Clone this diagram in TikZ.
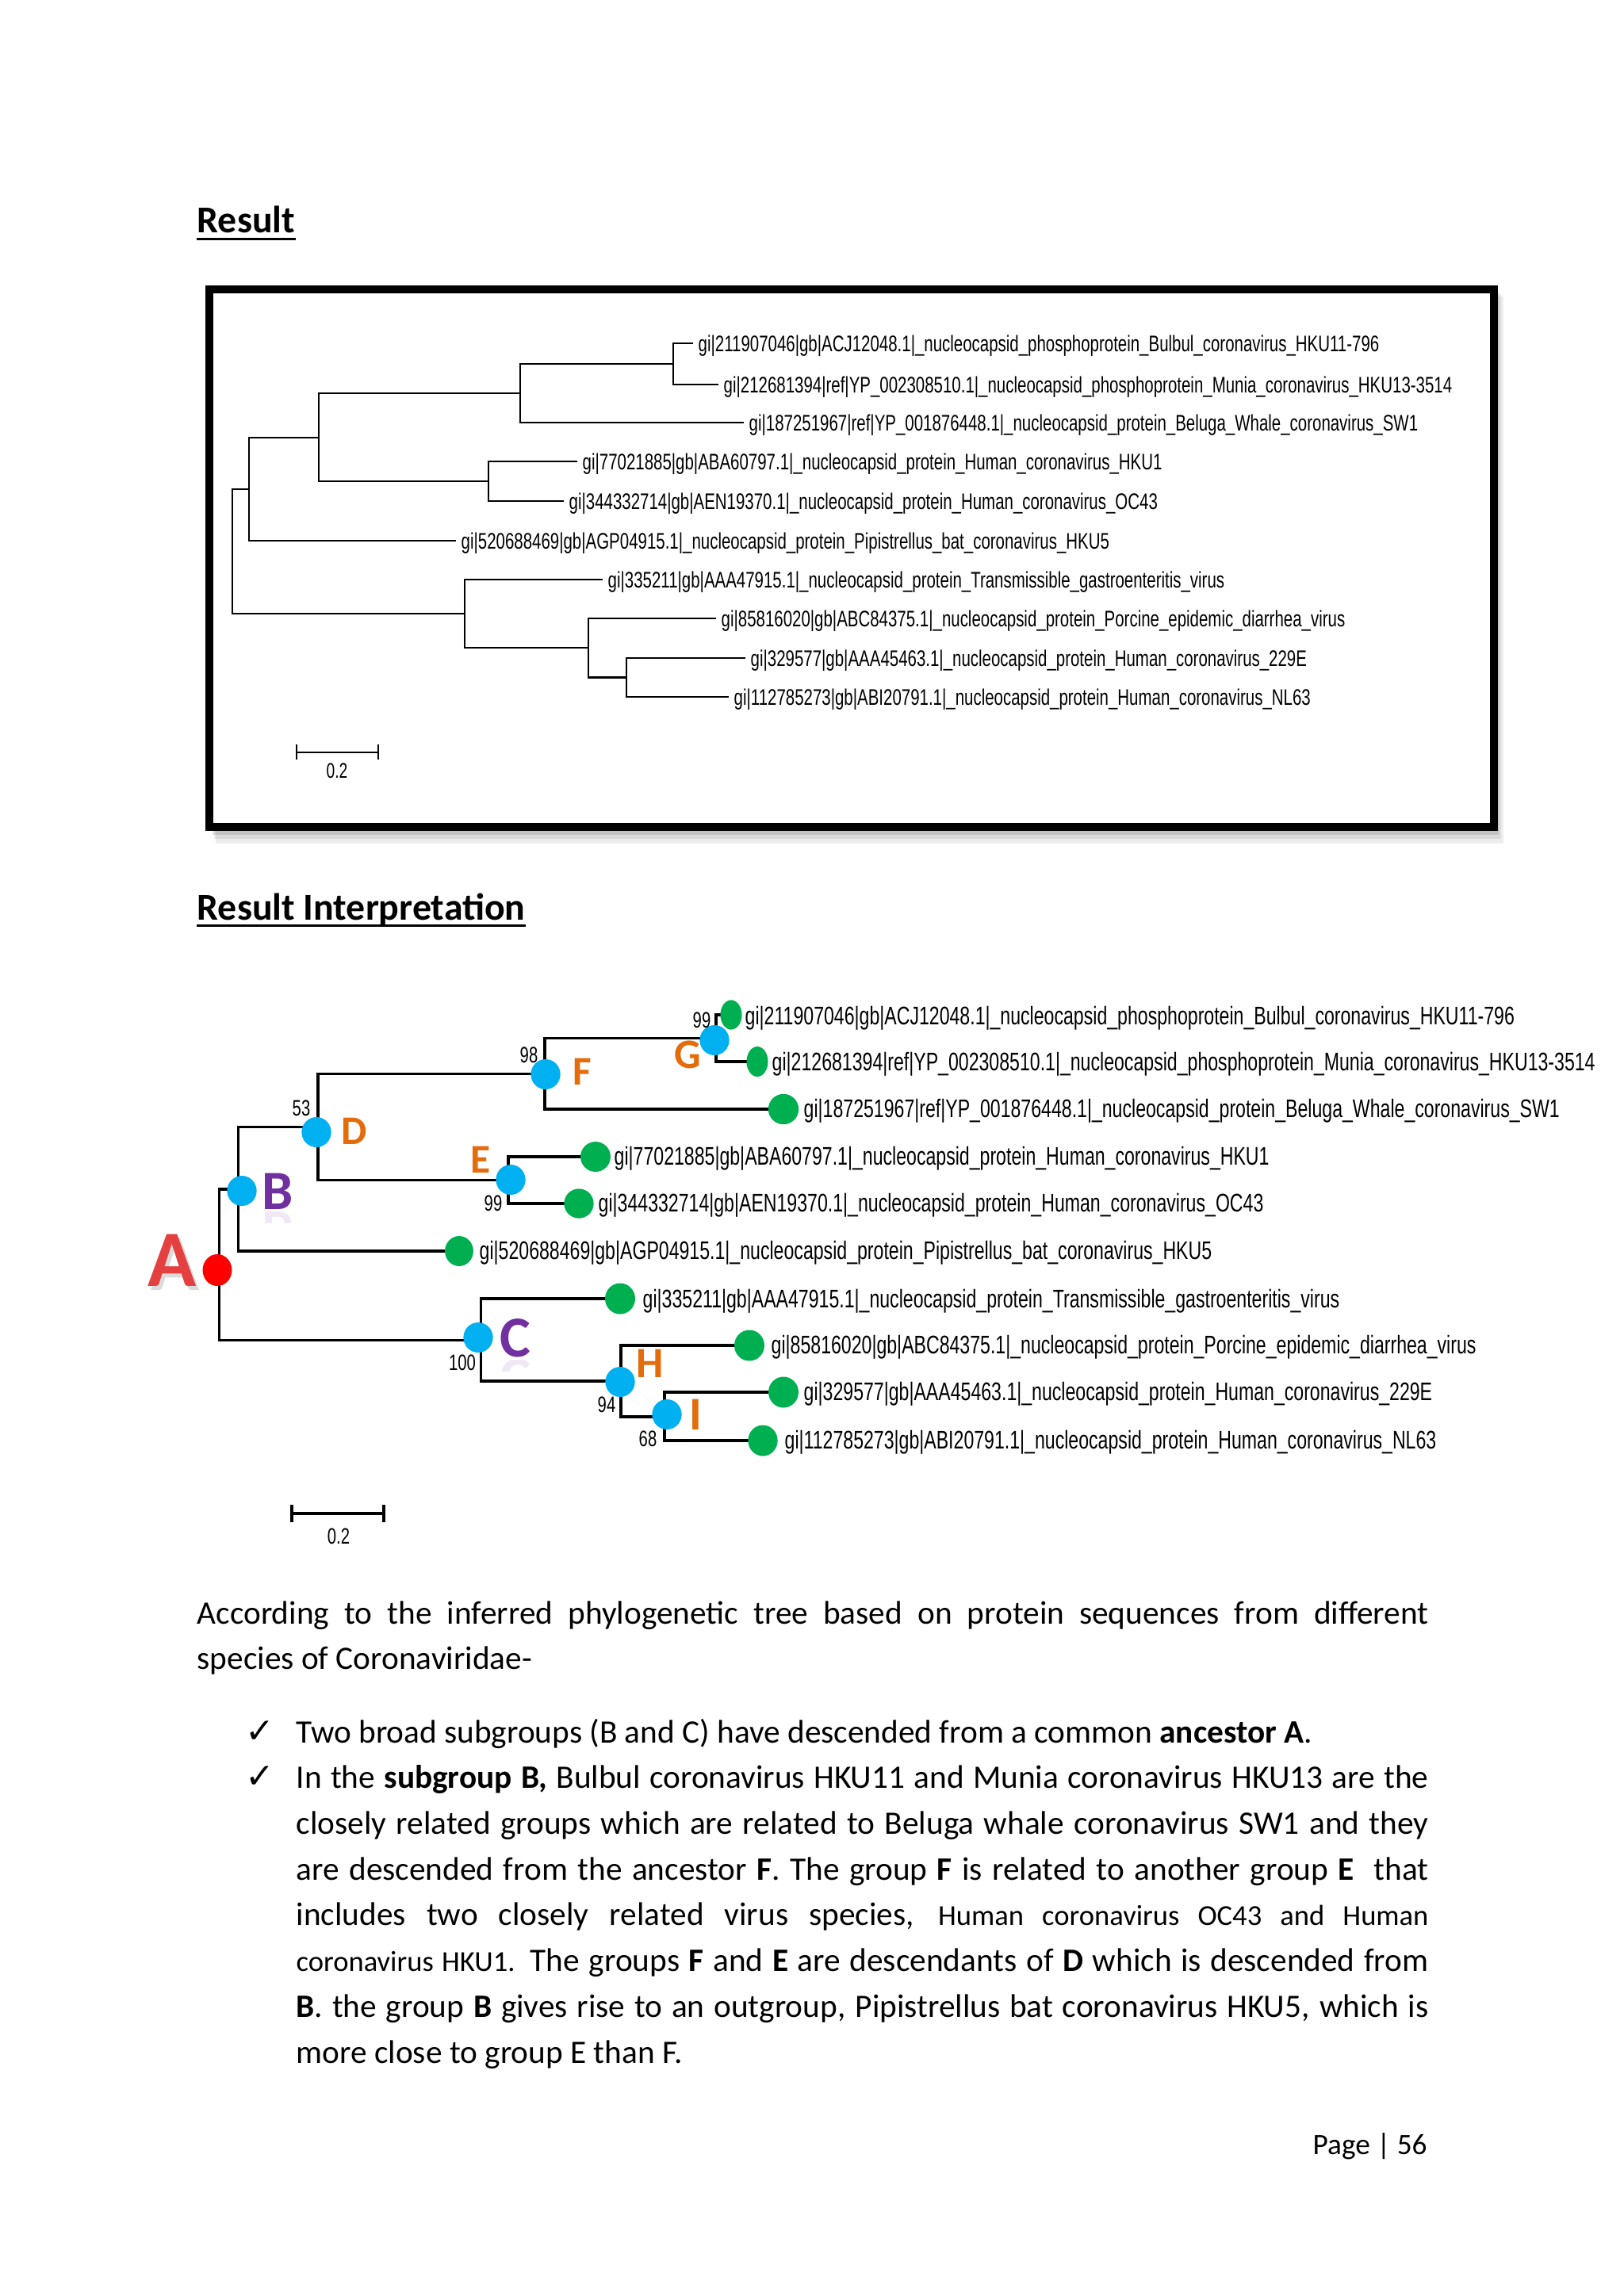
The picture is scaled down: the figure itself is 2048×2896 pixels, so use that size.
\documentclass[tikz,border=0pt]{standalone}
\usepackage{fontspec}
\setmainfont{Carlito}
\newfontfamily\treefont[FakeStretch=0.72]{Liberation Sans}
\newfontfamily\symfont{DejaVu Sans}
\usetikzlibrary{shapes.geometric}
\definecolor{nblue}{HTML}{00B0F0}
\definecolor{ngreen}{HTML}{00B050}
\definecolor{nred}{HTML}{FF0000}
\definecolor{npurple}{HTML}{7030A0}
\definecolor{norange}{HTML}{E46C0A}
\definecolor{ared}{HTML}{E4403F}
\tikzset{
  tbr/.style={line width=0.8pt},
  bbr/.style={line width=0.9pt},
  tlab/.style={anchor=west, inner xsep=1.7pt, inner ysep=0pt, font=\treefont\fontsize{8.08}{9}\selectfont, text height=5.79pt, text depth=0pt},
  blab/.style={anchor=west, inner sep=0pt, font=\treefont\fontsize{9.13}{10}\selectfont, text height=6.54pt, text depth=0pt},
  bootval/.style={inner sep=0pt, font=\treefont\fontsize{8}{9}\selectfont, text height=5.73pt, text depth=0pt},
  inner/.style={ellipse, fill=nblue, inner sep=0pt, minimum width=10.6pt, minimum height=10.8pt},
  letter/.style={inner sep=0pt, text depth=0pt},
  bodyt/.style={anchor=base west, inner sep=0pt, font=\fontsize{11.75}{14}\selectfont},
  chk/.style={anchor=base west, inner sep=0pt, font=\symfont\fontsize{12.5}{14}\selectfont},
}
\newcommand{\smtxt}[1]{{\fontsize{10.4}{12}\selectfont #1}}
\begin{document}
\begin{tikzpicture}[x=0.01cm,y=-0.01cm]
\useasboundingbox (0,0) rectangle (2048,2896);
\fill[white] (0,0) rectangle (2048,2896);

% ---------- Heading 1
\node[anchor=base west, inner sep=0pt, font=\bfseries\fontsize{13.6}{16}\selectfont] (h1) at (248,293) {Result};
\draw[line width=0.85pt] ([yshift=-2.3pt]h1.base west) -- ([yshift=-2.3pt]h1.base east);

% ---------- Framed tree
\fill[black,opacity=0.07] (272,374) rectangle (1896,1064);
\fill[black,opacity=0.08] (270,371) rectangle (1893,1058);
\fill[black,opacity=0.10] (268,368) rectangle (1890,1053);
\filldraw[fill=white, draw=black, line width=2.85pt] (264,365) rectangle (1884,1043);

\coordinate (tA) at (293,696);
\coordinate (tB) at (314,617);
\coordinate (tC) at (586,774);
\coordinate (tD) at (402,552);
\coordinate (tE) at (616,607);
\coordinate (tF) at (656,496);
\coordinate (tG) at (849,459);
\coordinate (tH) at (742,817);
\coordinate (tI) at (790,854.5);

\node[tlab] (t1) at (874,433) {gi|211907046|gb|ACJ12048.1|\_nucleocapsid\_phosphoprotein\_Bulbul\_coronavirus\_HKU11-796};
\node[tlab] (t2) at (906,485) {gi|212681394|ref|YP\_002308510.1|\_nucleocapsid\_phosphoprotein\_Munia\_coronavirus\_HKU13-3514};
\node[tlab] (t3) at (938,533) {gi|187251967|ref|YP\_001876448.1|\_nucleocapsid\_protein\_Beluga\_Whale\_coronavirus\_SW1};
\node[tlab] (t4) at (728,582) {gi|77021885|gb|ABA60797.1|\_nucleocapsid\_protein\_Human\_coronavirus\_HKU1};
\node[tlab] (t5) at (711,632) {gi|344332714|gb|AEN19370.1|\_nucleocapsid\_protein\_Human\_coronavirus\_OC43};
\node[tlab] (t6) at (575,682) {gi|520688469|gb|AGP04915.1|\_nucleocapsid\_protein\_Pipistrellus\_bat\_coronavirus\_HKU5};
\node[tlab] (t7) at (760,731) {gi|335211|gb|AAA47915.1|\_nucleocapsid\_protein\_Transmissible\_gastroenteritis\_virus};
\node[tlab] (t8) at (903,780) {gi|85816020|gb|ABC84375.1|\_nucleocapsid\_protein\_Porcine\_epidemic\_diarrhea\_virus};
\node[tlab] (t9) at (940,830) {gi|329577|gb|AAA45463.1|\_nucleocapsid\_protein\_Human\_coronavirus\_229E};
\node[tlab] (t10) at (919,879) {gi|112785273|gb|ABI20791.1|\_nucleocapsid\_protein\_Human\_coronavirus\_NL63};

\draw[tbr] (tA) |- (tB);
\draw[tbr] (tA) |- (tC);
\draw[tbr] (tB) |- (tD);
\draw[tbr] (tB) |- (t6.west);
\draw[tbr] (tD) |- (tF);
\draw[tbr] (tD) |- (tE);
\draw[tbr] (tF) |- (tG);
\draw[tbr] (tF) |- (t3.west);
\draw[tbr] (tG) |- (t1.west);
\draw[tbr] (tG) |- (t2.west);
\draw[tbr] (tE) |- (t4.west);
\draw[tbr] (tE) |- (t5.west);
\draw[tbr] (tC) |- (t7.west);
\draw[tbr] (tC) |- (tH);
\draw[tbr] (tH) |- (t8.west);
\draw[tbr] (tH) |- (tI);
\draw[tbr] (tI) |- (t9.west);
\draw[tbr] (tI) |- (t10.west);

% scale bar top
\coordinate (sa) at (374,949);
\coordinate (sb) at (477,949);
\draw[tbr] (sa) -- (sb);
\draw[tbr] ([yshift=2.8pt]sa) -- ([yshift=-2.6pt]sa);
\draw[tbr] ([yshift=2.8pt]sb) -- ([yshift=-2.6pt]sb);
\node[bootval, font=\treefont\fontsize{7.6}{9}\selectfont, text height=5.44pt] (s02) at (425,972) {0.2};

% ---------- Heading 2
\node[anchor=base west, inner sep=0pt, font=\bfseries\fontsize{13.6}{16}\selectfont] (h2) at (248,1160) {Result Interpretation};
\draw[line width=0.85pt] ([yshift=-2.1pt]h2.base west) -- ([yshift=-2.1pt]h2.base east);

% ---------- Annotated tree
\coordinate (bA) at (276.5,1596);
\coordinate (bB) at (300.5,1500);
\coordinate (bC) at (606.5,1690.5);
\coordinate (bD) at (401,1421.5);
\coordinate (bE) at (641,1488.5);
\coordinate (bF) at (687,1354.5);
\coordinate (bG) at (903,1309.5);
\coordinate (bH) at (783,1742);
\coordinate (bI) at (838,1787);

\coordinate (g1) at (922,1280);
\coordinate (g2) at (955,1339);
\coordinate (g3) at (988,1399);
\coordinate (g4) at (751,1459);
\coordinate (g5) at (730,1518);
\coordinate (g6) at (579,1578);
\coordinate (g7) at (782,1638);
\coordinate (g8) at (945,1697);
\coordinate (g9) at (988,1756);
\coordinate (g10) at (962,1817);

\draw[bbr] (bA) |- (bB);
\draw[bbr] (bA) |- (bC);
\draw[bbr] (bB) |- (bD);
\draw[bbr] (bB) |- (g6);
\draw[bbr] (bD) |- (bF);
\draw[bbr] (bD) |- (bE);
\draw[bbr] (bF) |- (bG);
\draw[bbr] (bF) |- (g3);
\draw[bbr] (bG) |- (g1);
\draw[bbr] (bG) |- (g2);
\draw[bbr] (bE) |- (g4);
\draw[bbr] (bE) |- (g5);
\draw[bbr] (bC) |- (g7);
\draw[bbr] (bC) |- (bH);
\draw[bbr] (bH) |- (g8);
\draw[bbr] (bH) |- (bI);
\draw[bbr] (bI) |- (g9);
\draw[bbr] (bI) |- (g10);

% leaf dots
\fill[ngreen] (g1) ellipse [x radius=3.85pt, y radius=5.3pt];
\fill[ngreen] (g2) ellipse [x radius=3.85pt, y radius=5.4pt];
\fill[ngreen] (g3) circle [radius=5.45pt];
\fill[ngreen] (g4) circle [radius=5.4pt];
\fill[ngreen] (g5) circle [radius=5.3pt];
\fill[ngreen] (g6) ellipse [x radius=5.1pt, y radius=5.4pt];
\fill[ngreen] (g7) ellipse [x radius=5.4pt, y radius=5.55pt];
\fill[ngreen] (g8) ellipse [x radius=5.4pt, y radius=5.55pt];
\fill[ngreen] (g9) ellipse [x radius=5.4pt, y radius=5.55pt];
\fill[ngreen] (g10) ellipse [x radius=5.3pt, y radius=5.55pt];

\node[inner] (nB) at (305,1502) {};
\node[inner] (nD) at (399,1428) {};
\node[inner] (nE) at (644,1488) {};
\node[inner] (nF) at (688,1355) {};
\node[inner] (nG) at (901,1312) {};
\node[inner] (nC) at (603,1687) {};
\node[inner] (nH) at (782,1743) {};
\node[inner] (nI) at (841,1784) {};
\node[ellipse, fill=nred, inner sep=0pt, minimum width=10.5pt, minimum height=11.4pt] (nA) at (274,1602) {};

\node[blab] (l1) at (939,1281) {gi|211907046|gb|ACJ12048.1|\_nucleocapsid\_phosphoprotein\_Bulbul\_coronavirus\_HKU11-796};
\node[blab] (l2) at (973,1339) {gi|212681394|ref|YP\_002308510.1|\_nucleocapsid\_phosphoprotein\_Munia\_coronavirus\_HKU13-3514};
\node[blab] (l3) at (1013,1398) {gi|187251967|ref|YP\_001876448.1|\_nucleocapsid\_protein\_Beluga\_Whale\_coronavirus\_SW1};
\node[blab] (l4) at (774,1458) {gi|77021885|gb|ABA60797.1|\_nucleocapsid\_protein\_Human\_coronavirus\_HKU1};
\node[blab] (l5) at (754,1517) {gi|344332714|gb|AEN19370.1|\_nucleocapsid\_protein\_Human\_coronavirus\_OC43};
\node[blab] (l6) at (604,1577) {gi|520688469|gb|AGP04915.1|\_nucleocapsid\_protein\_Pipistrellus\_bat\_coronavirus\_HKU5};
\node[blab] (l7) at (810,1638) {gi|335211|gb|AAA47915.1|\_nucleocapsid\_protein\_Transmissible\_gastroenteritis\_virus};
\node[blab] (l8) at (972,1696) {gi|85816020|gb|ABC84375.1|\_nucleocapsid\_protein\_Porcine\_epidemic\_diarrhea\_virus};
\node[blab] (l9) at (1013,1755) {gi|329577|gb|AAA45463.1|\_nucleocapsid\_protein\_Human\_coronavirus\_229E};
\node[blab] (l10) at (989,1816) {gi|112785273|gb|ABI20791.1|\_nucleocapsid\_protein\_Human\_coronavirus\_NL63};

% bootstrap values
\node[bootval] (v1) at (885,1286) {99};
\node[bootval] (v2) at (667,1330) {98};
\node[bootval] (v3) at (380,1397) {53};
\node[bootval] (v4) at (622,1517) {99};
\node[bootval] (v5) at (583,1718) {100};
\node[bootval] (v6) at (765,1771) {94};
\node[bootval] (v7) at (817,1814) {68};

% group letters
\node[letter, text=black!40, opacity=0.35, font=\bfseries\fontsize{28.7}{30}\selectfont, text height=18.5pt] (LAs) at (221,1595) {A};
\node[letter, text=ared, font=\bfseries\fontsize{28.7}{30}\selectfont, text height=18.5pt] (LA) at (217,1590) {A};
\begin{scope}
\clip (325,1528) rectangle (380,1542);
\node[letter, text=npurple, opacity=0.1, yscale=-1, font=\bfseries\fontsize{19.9}{22}\selectfont, text height=12.8pt] (LBr) at (350,1551) {B};
\end{scope}
\node[letter, text=npurple, font=\bfseries\fontsize{19.9}{22}\selectfont, text height=12.8pt] (LB) at (350,1503) {B};
\begin{scope}
\clip (625,1715) rectangle (680,1729);
\node[letter, text=npurple, opacity=0.1, yscale=-1, font=\bfseries\fontsize{20.8}{22}\selectfont, text height=13.4pt] (LCr) at (650,1738) {C};
\end{scope}
\node[letter, text=npurple, font=\bfseries\fontsize{20.8}{22}\selectfont, text height=13.4pt] (LC) at (650,1688) {C};
\node[letter, text=norange, font=\bfseries\fontsize{14.6}{16}\selectfont, text height=9.4pt] (LD) at (447,1427) {D};
\node[letter, text=norange, font=\bfseries\fontsize{14.6}{16}\selectfont, text height=9.4pt] (LE) at (606,1463) {E};
\node[letter, text=norange, font=\bfseries\fontsize{14.6}{16}\selectfont, text height=9.4pt] (LF) at (734,1352) {F};
\node[letter, text=norange, font=\bfseries\fontsize{15}{16}\selectfont, text height=9.7pt] (LG) at (867,1330) {G};
\node[letter, text=norange, font=\bfseries\fontsize{15.5}{16}\selectfont, text height=10pt] (LH) at (820,1720) {H};
\node[letter, text=norange, font=\bfseries\fontsize{16.8}{18}\selectfont, text height=10.8pt] (LI) at (877,1784) {I};

% scale bar bottom
\coordinate (sc) at (368,1909);
\coordinate (sd) at (484,1909);
\draw[bbr] (sc) -- (sd);
\draw[bbr] ([yshift=3.1pt]sc) -- ([yshift=-3.1pt]sc);
\draw[bbr] ([yshift=3.1pt]sd) -- ([yshift=-3.1pt]sd);
\node[bootval] (s02b) at (427,1937) {0.2};

% ---------- Body text
\node[bodyt] (p1) at (248,2048) {\makebox[155.2mm][s]{According to the inferred phylogenetic tree based on protein sequences from different}};
\node[bodyt] (p2) at (248,2105) {species of Coronaviridae-};
\node[chk] (c1) at (309,2198) {✓};
\node[bodyt] (b1) at (373,2198) {Two broad subgroups (B and C) have descended from a common \textbf{ancestor A}.};
\node[chk] (c2) at (309,2255) {✓};
\node[bodyt] (b2) at (373,2255) {\makebox[142.7mm][s]{In the \textbf{subgroup B,} Bulbul coronavirus HKU11 and Munia coronavirus HKU13 are the}};
\node[bodyt] (b3) at (373,2313) {\makebox[142.7mm][s]{closely related groups which are related to Beluga whale coronavirus SW1 and they}};
\node[bodyt] (b4) at (373,2371) {\makebox[142.7mm][s]{are descended from the ancestor \textbf{F}. The group \textbf{F} is related to another group \textbf{E}\ \ that}};
\node[bodyt] (b5) at (373,2428) {\makebox[142.7mm][s]{includes two closely related virus species, \smtxt{Human coronavirus OC43 and Human}}};
\node[bodyt] (b6) at (373,2486) {\makebox[142.7mm][s]{\smtxt{coronavirus HKU1.} The groups \textbf{F} and \textbf{E} are descendants of \textbf{D} which is descended from}};
\node[bodyt] (b7) at (373,2544) {\makebox[142.7mm][s]{\textbf{B}. the group \textbf{B} gives rise to an outgroup, Pipistrellus bat coronavirus HKU5, which is}};
\node[bodyt] (b8) at (373,2602) {more close to group E than F.};

% ---------- Page number
\node[anchor=base west, inner sep=0pt, font=\fontsize{10.6}{12}\selectfont] (pg) at (1655,2717) {Page | 56};
\end{tikzpicture}
\end{document}
